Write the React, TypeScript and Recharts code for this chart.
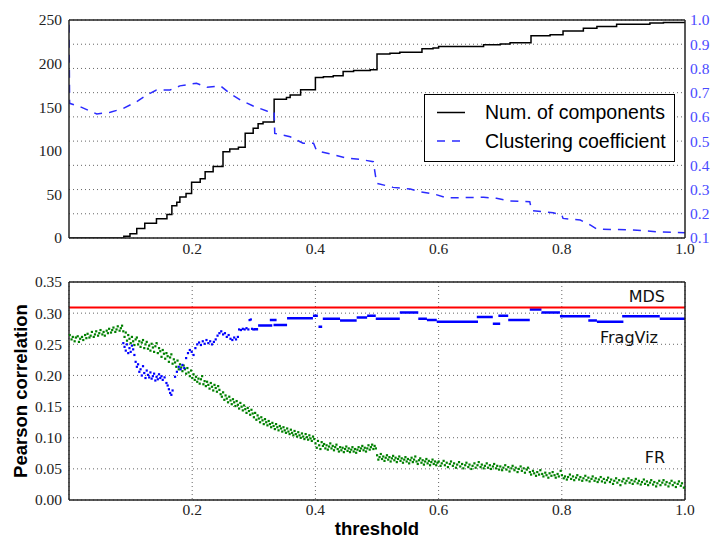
import React from 'react';
import {
  ComposedChart,
  CartesianGrid,
  Line,
  Scatter,
  ReferenceLine,
  XAxis,
  YAxis,
} from 'recharts';

const X_TICKS = [0.2, 0.4, 0.6, 0.8, 1.0];
const COMP_TICKS = [0, 50, 100, 150, 200, 250];
const CC_TICKS = [0.1, 0.2, 0.3, 0.4, 0.5, 0.6, 0.7, 0.8, 0.9, 1.0];
const CORR_TICKS = [0, 0.05, 0.1, 0.15, 0.2, 0.25, 0.3, 0.35];

// [threshold, number of components] (step changes)
const COMPONENTS: [number, number][] = [
  [0, 0], [0.089, 2], [0.099, 5], [0.11, 11], [0.123, 17], [0.142, 22], [0.159, 27],
  [0.167, 37], [0.175, 41], [0.18, 47], [0.19, 51], [0.199, 64], [0.213, 68], [0.221, 76],
  [0.234, 82], [0.25, 99], [0.261, 102], [0.275, 104], [0.286, 120], [0.299, 126],
  [0.307, 131], [0.315, 133], [0.333, 159], [0.353, 161], [0.359, 164], [0.376, 170],
  [0.4, 184], [0.413, 185], [0.429, 186], [0.445, 191], [0.462, 192], [0.489, 193],
  [0.5, 211], [0.521, 212], [0.537, 213], [0.573, 217], [0.591, 218], [0.6, 219.5],
  [0.673, 221.5], [0.7, 222.5], [0.716, 224], [0.75, 232], [0.781, 233], [0.802, 237.5],
  [0.835, 240.5], [0.857, 242.5], [0.889, 245], [0.943, 246.5], [0.965, 247], [1.0, 247],
];

// [threshold, clustering coefficient]
const CLUSTERING: [number, number][] = [
  [0, 0.98], [0.001, 0.656], [0.018, 0.642], [0.045, 0.612], [0.067, 0.619], [0.088, 0.635],
  [0.11, 0.663], [0.126, 0.69], [0.142, 0.711], [0.164, 0.711], [0.18, 0.728], [0.207, 0.739],
  [0.224, 0.722], [0.246, 0.728], [0.261, 0.697], [0.278, 0.67], [0.299, 0.645], [0.321, 0.624],
  [0.333, 0.621], [0.334, 0.532], [0.359, 0.518], [0.38, 0.491], [0.397, 0.491], [0.402, 0.46],
  [0.424, 0.447], [0.451, 0.43], [0.472, 0.425], [0.494, 0.415], [0.4995, 0.326], [0.526, 0.309],
  [0.554, 0.302], [0.57, 0.291], [0.592, 0.282], [0.613, 0.266], [0.673, 0.268], [0.694, 0.264],
  [0.716, 0.253], [0.748, 0.25], [0.751, 0.213], [0.786, 0.204], [0.8, 0.195], [0.802, 0.181],
  [0.83, 0.174], [0.846, 0.154], [0.857, 0.137], [0.916, 0.133], [0.954, 0.126], [1.0, 0.122],
];

const MDS_CORR = 0.309;

// [threshold, Pearson correlation] for the FR layout
const FR: [number, number][] = [
  [0.001, 0.265], [0.004, 0.258], [0.006, 0.262], [0.009, 0.255], [0.011, 0.261], [0.014, 0.263],
  [0.016, 0.254], [0.018, 0.259], [0.021, 0.262], [0.023, 0.257], [0.026, 0.265], [0.028, 0.26],
  [0.03, 0.267], [0.033, 0.261], [0.035, 0.264], [0.037, 0.27], [0.04, 0.262], [0.042, 0.266],
  [0.044, 0.271], [0.047, 0.264], [0.049, 0.268], [0.051, 0.273], [0.054, 0.266], [0.056, 0.27],
  [0.058, 0.264], [0.061, 0.272], [0.063, 0.268], [0.065, 0.275], [0.068, 0.269], [0.07, 0.273],
  [0.072, 0.277], [0.075, 0.27], [0.077, 0.274], [0.079, 0.279], [0.082, 0.272], [0.084, 0.276],
  [0.086, 0.28], [0.088, 0.271],
  [0.09, 0.262], [0.092, 0.269], [0.094, 0.256], [0.096, 0.265], [0.098, 0.259], [0.1, 0.252],
  [0.102, 0.262], [0.104, 0.255], [0.106, 0.249], [0.108, 0.258], [0.11, 0.261], [0.112, 0.25],
  [0.114, 0.255], [0.116, 0.246], [0.118, 0.253], [0.12, 0.257], [0.122, 0.244], [0.124, 0.25],
  [0.126, 0.254], [0.128, 0.243], [0.13, 0.248], [0.132, 0.24], [0.134, 0.251], [0.136, 0.245],
  [0.138, 0.238], [0.14, 0.247], [0.142, 0.252], [0.144, 0.236], [0.146, 0.244], [0.148, 0.239],
  [0.15, 0.23], [0.152, 0.241], [0.154, 0.235], [0.156, 0.227], [0.158, 0.236], [0.16, 0.231],
  [0.162, 0.222], [0.164, 0.229], [0.166, 0.234], [0.168, 0.219], [0.17, 0.226], [0.172, 0.221],
  [0.174, 0.214], [0.176, 0.224], [0.178, 0.21], [0.18, 0.218], [0.182, 0.213], [0.184, 0.207],
  [0.186, 0.216], [0.188, 0.21], [0.19, 0.203], [0.192, 0.212], [0.194, 0.205], [0.196, 0.199],
  [0.198, 0.208], [0.2, 0.196],
  [0.202, 0.202], [0.204, 0.193], [0.206, 0.198], [0.208, 0.19], [0.21, 0.195], [0.212, 0.187],
  [0.214, 0.194], [0.216, 0.199], [0.218, 0.186], [0.22, 0.191], [0.222, 0.183], [0.224, 0.19],
  [0.226, 0.185], [0.228, 0.179], [0.23, 0.188], [0.232, 0.182], [0.234, 0.176], [0.236, 0.185],
  [0.238, 0.18], [0.24, 0.174], [0.242, 0.183], [0.244, 0.177], [0.246, 0.17], [0.248, 0.166],
  [0.25, 0.173], [0.252, 0.161], [0.254, 0.168], [0.256, 0.163], [0.258, 0.157], [0.26, 0.166],
  [0.262, 0.16], [0.264, 0.154], [0.266, 0.162], [0.268, 0.157], [0.27, 0.151], [0.272, 0.159],
  [0.274, 0.153], [0.276, 0.147], [0.278, 0.156], [0.28, 0.15], [0.282, 0.144], [0.284, 0.152],
  [0.286, 0.146], [0.288, 0.14], [0.29, 0.148], [0.292, 0.143], [0.294, 0.137], [0.296, 0.145],
  [0.298, 0.139],
  [0.3, 0.133], [0.302, 0.14], [0.304, 0.129], [0.306, 0.136], [0.308, 0.131], [0.31, 0.125],
  [0.312, 0.133], [0.314, 0.128], [0.316, 0.122], [0.318, 0.13], [0.32, 0.125], [0.322, 0.12],
  [0.324, 0.127], [0.326, 0.122], [0.328, 0.117], [0.33, 0.124], [0.332, 0.119], [0.334, 0.114],
  [0.336, 0.122], [0.338, 0.117], [0.34, 0.112], [0.342, 0.119], [0.344, 0.115], [0.346, 0.11],
  [0.348, 0.117], [0.35, 0.112], [0.352, 0.108], [0.354, 0.115], [0.356, 0.11], [0.358, 0.106],
  [0.36, 0.113], [0.362, 0.108], [0.364, 0.104], [0.366, 0.111], [0.368, 0.106], [0.37, 0.102],
  [0.372, 0.109], [0.374, 0.104], [0.376, 0.1], [0.378, 0.107], [0.38, 0.102], [0.382, 0.098],
  [0.384, 0.106], [0.386, 0.101], [0.388, 0.097], [0.39, 0.104], [0.392, 0.099], [0.394, 0.095],
  [0.396, 0.102], [0.398, 0.098],
  [0.4, 0.091], [0.402, 0.084], [0.404, 0.095], [0.406, 0.088], [0.408, 0.082], [0.41, 0.093],
  [0.412, 0.087], [0.414, 0.09], [0.416, 0.083], [0.418, 0.088], [0.42, 0.081], [0.422, 0.086],
  [0.424, 0.091], [0.426, 0.083], [0.428, 0.087], [0.43, 0.08], [0.432, 0.085], [0.434, 0.089],
  [0.436, 0.082], [0.438, 0.078], [0.44, 0.085], [0.442, 0.08], [0.444, 0.084], [0.446, 0.077],
  [0.448, 0.082], [0.45, 0.086], [0.452, 0.079], [0.454, 0.083], [0.456, 0.077], [0.458, 0.081],
  [0.46, 0.085], [0.462, 0.078], [0.464, 0.082], [0.466, 0.076], [0.468, 0.081], [0.47, 0.085],
  [0.472, 0.079], [0.474, 0.083], [0.476, 0.087], [0.478, 0.08], [0.48, 0.084], [0.482, 0.078],
  [0.484, 0.083], [0.486, 0.088], [0.488, 0.081], [0.49, 0.085], [0.492, 0.089], [0.494, 0.082],
  [0.496, 0.087], [0.498, 0.083],
  [0.5, 0.072], [0.502, 0.065], [0.504, 0.069], [0.506, 0.074], [0.508, 0.066], [0.51, 0.07],
  [0.512, 0.063], [0.514, 0.068], [0.516, 0.072], [0.518, 0.065], [0.52, 0.069], [0.522, 0.062],
  [0.524, 0.067], [0.526, 0.071], [0.528, 0.064], [0.53, 0.068], [0.532, 0.061], [0.534, 0.066],
  [0.536, 0.07], [0.538, 0.063], [0.54, 0.067], [0.542, 0.06], [0.544, 0.065], [0.546, 0.069],
  [0.548, 0.062], [0.55, 0.066], [0.552, 0.059], [0.554, 0.064], [0.556, 0.068], [0.558, 0.061],
  [0.56, 0.065], [0.562, 0.07], [0.564, 0.062], [0.566, 0.058], [0.568, 0.064], [0.57, 0.067],
  [0.572, 0.06], [0.574, 0.064], [0.576, 0.057], [0.578, 0.062], [0.58, 0.066], [0.582, 0.059],
  [0.584, 0.063], [0.586, 0.056], [0.588, 0.061], [0.59, 0.065], [0.592, 0.058], [0.594, 0.062],
  [0.596, 0.056], [0.598, 0.06],
  [0.6, 0.062], [0.603, 0.055], [0.605, 0.059], [0.608, 0.063], [0.61, 0.056], [0.613, 0.06],
  [0.615, 0.053], [0.618, 0.058], [0.62, 0.062], [0.623, 0.055], [0.625, 0.059], [0.628, 0.052],
  [0.63, 0.057], [0.633, 0.061], [0.635, 0.054], [0.638, 0.058], [0.64, 0.051], [0.643, 0.056],
  [0.645, 0.06], [0.648, 0.053], [0.65, 0.057], [0.653, 0.05], [0.655, 0.055], [0.658, 0.059],
  [0.66, 0.052], [0.663, 0.056], [0.665, 0.061], [0.668, 0.053], [0.67, 0.057], [0.673, 0.051],
  [0.675, 0.055], [0.678, 0.059], [0.68, 0.052], [0.683, 0.056], [0.685, 0.05], [0.688, 0.054],
  [0.69, 0.058], [0.693, 0.051], [0.695, 0.055], [0.698, 0.049],
  [0.7, 0.054], [0.703, 0.048], [0.705, 0.052], [0.708, 0.056], [0.71, 0.049], [0.713, 0.053],
  [0.715, 0.046], [0.718, 0.051], [0.72, 0.055], [0.723, 0.048], [0.725, 0.052], [0.728, 0.045],
  [0.73, 0.05], [0.733, 0.054], [0.735, 0.047], [0.738, 0.051], [0.74, 0.044], [0.743, 0.049],
  [0.745, 0.052], [0.748, 0.045], [0.75, 0.041], [0.753, 0.047], [0.755, 0.043], [0.758, 0.039],
  [0.76, 0.045], [0.763, 0.041], [0.765, 0.048], [0.768, 0.042], [0.77, 0.038], [0.773, 0.044],
  [0.775, 0.04], [0.778, 0.036], [0.78, 0.043], [0.783, 0.039], [0.785, 0.045], [0.788, 0.04],
  [0.79, 0.036], [0.793, 0.042], [0.795, 0.038], [0.798, 0.047],
  [0.8, 0.04], [0.803, 0.035], [0.805, 0.038], [0.808, 0.033], [0.81, 0.037], [0.813, 0.041],
  [0.815, 0.034], [0.818, 0.038], [0.82, 0.032], [0.823, 0.036], [0.825, 0.04], [0.828, 0.033],
  [0.83, 0.037], [0.833, 0.031], [0.835, 0.035], [0.838, 0.039], [0.84, 0.032], [0.843, 0.036],
  [0.845, 0.03], [0.848, 0.034], [0.85, 0.038], [0.853, 0.031], [0.855, 0.035], [0.858, 0.029],
  [0.86, 0.033], [0.863, 0.037], [0.865, 0.03], [0.868, 0.034], [0.87, 0.028], [0.873, 0.032],
  [0.875, 0.036], [0.878, 0.029], [0.88, 0.033], [0.883, 0.026], [0.885, 0.031], [0.888, 0.035],
  [0.89, 0.028], [0.893, 0.032], [0.895, 0.024], [0.898, 0.03], [0.9, 0.034], [0.903, 0.027],
  [0.905, 0.031], [0.908, 0.035], [0.91, 0.028], [0.913, 0.032], [0.915, 0.026], [0.918, 0.03],
  [0.92, 0.034], [0.923, 0.027], [0.925, 0.031], [0.928, 0.025], [0.93, 0.029], [0.933, 0.033],
  [0.935, 0.026], [0.938, 0.03], [0.94, 0.024], [0.943, 0.028], [0.945, 0.032], [0.948, 0.025],
  [0.95, 0.029], [0.953, 0.022], [0.955, 0.027], [0.958, 0.031], [0.96, 0.024], [0.963, 0.028],
  [0.965, 0.032], [0.968, 0.025], [0.97, 0.029], [0.973, 0.022], [0.975, 0.027], [0.978, 0.031],
  [0.98, 0.024], [0.983, 0.028], [0.985, 0.021], [0.988, 0.026], [0.99, 0.03], [0.993, 0.023],
  [0.995, 0.027], [0.998, 0.02],
];

// [threshold, Pearson correlation] for FragViz, scattered part
const FRAGVIZ: [number, number][] = [
  [0.088, 0.252], [0.09, 0.246], [0.092, 0.24], [0.094, 0.25], [0.096, 0.236], [0.098, 0.244],
  [0.1, 0.238], [0.102, 0.248], [0.104, 0.242], [0.106, 0.233], [0.108, 0.222], [0.11, 0.214],
  [0.112, 0.218], [0.114, 0.206], [0.116, 0.21], [0.118, 0.2], [0.12, 0.215], [0.122, 0.204],
  [0.124, 0.196], [0.126, 0.208], [0.128, 0.201], [0.13, 0.197], [0.132, 0.205], [0.134, 0.195],
  [0.136, 0.199], [0.138, 0.203], [0.14, 0.192], [0.142, 0.198], [0.144, 0.194], [0.146, 0.202],
  [0.148, 0.196], [0.15, 0.199], [0.152, 0.193], [0.155, 0.197], [0.158, 0.188], [0.16, 0.184],
  [0.162, 0.178], [0.164, 0.172], [0.166, 0.169], [0.168, 0.176], [0.172, 0.198], [0.175, 0.206],
  [0.178, 0.214], [0.181, 0.21], [0.184, 0.217], [0.187, 0.212], [0.19, 0.228], [0.193, 0.236],
  [0.196, 0.241], [0.199, 0.238], [0.202, 0.233], [0.205, 0.244], [0.208, 0.25], [0.211, 0.253],
  [0.214, 0.249], [0.217, 0.255], [0.22, 0.251], [0.223, 0.257], [0.226, 0.252], [0.229, 0.255],
  [0.232, 0.25], [0.235, 0.254], [0.238, 0.258], [0.241, 0.264], [0.244, 0.268], [0.247, 0.271],
  [0.25, 0.266], [0.253, 0.268], [0.256, 0.262], [0.259, 0.265], [0.262, 0.259], [0.265, 0.257],
  [0.268, 0.261], [0.271, 0.258], [0.274, 0.262], [0.276, 0.274], [0.279, 0.273], [0.282, 0.275],
  [0.285, 0.274], [0.288, 0.276], [0.291, 0.274], [0.293, 0.289], [0.295, 0.29], [0.297, 0.275],
  [0.299, 0.274],
];

// [from, to, correlation] flat runs of FragViz at higher thresholds
const FRAGVIZ_RUNS: [number, number, number][] = [
  [0.3, 0.307, 0.274], [0.307, 0.33, 0.28], [0.326, 0.337, 0.289], [0.332, 0.354, 0.281],
  [0.354, 0.396, 0.292], [0.396, 0.404, 0.296], [0.405, 0.411, 0.278], [0.412, 0.44, 0.291],
  [0.44, 0.467, 0.288], [0.467, 0.484, 0.293], [0.484, 0.498, 0.296], [0.498, 0.537, 0.291],
  [0.537, 0.567, 0.301], [0.567, 0.581, 0.291], [0.581, 0.597, 0.289], [0.597, 0.664, 0.286],
  [0.662, 0.688, 0.294], [0.688, 0.7, 0.283], [0.697, 0.713, 0.296], [0.713, 0.748, 0.289],
  [0.748, 0.767, 0.306], [0.767, 0.797, 0.301], [0.797, 0.846, 0.295], [0.843, 0.857, 0.288],
  [0.857, 0.9, 0.286], [0.898, 0.959, 0.295], [0.959, 1.0, 0.291],
];

const compData = COMPONENTS.map(([t, n]) => ({ t, n }));
const ccData = CLUSTERING.map(([t, c]) => ({ t, c }));
const frData = FR.map(([t, v]) => ({ t, v }));
const fvData = FRAGVIZ.map(([t, v]) => ({ t, v }));
const fvRunData = FRAGVIZ_RUNS.flatMap(([a, b, v]) => [
  { t: a, v },
  { t: b, v },
  { t: b, v: null },
]);

const frame = { stroke: '#222', strokeWidth: 1.5 };
const inTick = { stroke: '#222', strokeWidth: 1 };
const gridColor = '#666';

// serif tick labels, like the matplotlib original
const serifTick = (digits: number, color = '#222') => (p: any) => (
  <text
    x={p.x}
    y={p.y}
    textAnchor={p.textAnchor}
    dy={p.verticalAnchor === 'start' ? '0.71em' : '0.35em'}
    fill={color}
    fontSize={15.5}
    fontFamily='"Liberation Serif", "Times New Roman", serif'
  >
    {Number(p.payload.value).toFixed(digits)}
  </text>
);

const square = (color: string) => (p: any) => (
  <rect x={p.cx - 1} y={p.cy - 1} width={2.2} height={2.2} fill={color} />
);

const App = () => {
  return (
    <div style={{ position: 'absolute', left: 0, top: 0, width: 711, height: 539, background: '#fff' }}>
      <div style={{ position: 'absolute', left: 0, top: 0 }}>
        <ComposedChart width={711} height={270} margin={{ top: 20, right: 0, bottom: 10, left: 9 }}>
          <CartesianGrid xAxisId="x" yAxisId="r" vertical={false} stroke={gridColor} strokeDasharray="1 3" />
          <XAxis xAxisId="x" dataKey="t" type="number" domain={[0, 1]} allowDataOverflow ticks={X_TICKS}
            interval={0} height={22} tickSize={0} tickMargin={5}
            tickLine={false} tick={serifTick(1)} axisLine={frame} />
          <XAxis xAxisId="xin" type="number" domain={[0, 1]} allowDataOverflow ticks={X_TICKS} interval={0}
            mirror tick={false} tickSize={5} tickLine={inTick} axisLine={false} />
          <XAxis xAxisId="xtop" orientation="top" type="number" domain={[0, 1]} allowDataOverflow ticks={X_TICKS}
            interval={0} mirror tick={false} tickSize={5} tickLine={inTick} axisLine={frame} />
          <YAxis yAxisId="l" type="number" domain={[0, 250]} allowDataOverflow ticks={COMP_TICKS} interval={0}
            width={60} tickSize={0} tickMargin={7} tickLine={false} tick={serifTick(0)} axisLine={frame} />
          <YAxis yAxisId="lin" type="number" domain={[0, 250]} allowDataOverflow ticks={COMP_TICKS} interval={0}
            mirror tick={false} tickSize={5} tickLine={inTick} axisLine={false} />
          <YAxis yAxisId="r" orientation="right" type="number" domain={[0.1, 1.0]} allowDataOverflow ticks={CC_TICKS}
            interval={0} width={26} tickSize={0} tickMargin={5}
            tickLine={false} tick={serifTick(1, '#4a4aff')} axisLine={frame} />
          <YAxis yAxisId="rin" orientation="right" type="number" domain={[0.1, 1.0]} allowDataOverflow ticks={CC_TICKS}
            interval={0} mirror tick={false} tickSize={5} tickLine={inTick} axisLine={false} />
          <Line data={compData} xAxisId="x" yAxisId="l" dataKey="n" type="stepAfter" stroke="#000"
            strokeWidth={1.5} dot={false} isAnimationActive={false} />
          <Line data={ccData} xAxisId="x" yAxisId="r" dataKey="c" type="linear" stroke="#2b2bff"
            strokeWidth={1.5} strokeDasharray="8 7" dot={false} isAnimationActive={false} />
        </ComposedChart>
      </div>
      <div style={{ position: 'absolute', left: 0, top: 270 }}>
        <ComposedChart width={711} height={269} margin={{ top: 12, right: 26, bottom: 0, left: 9 }}>
          <CartesianGrid xAxisId="x" yAxisId="y" stroke={gridColor} strokeDasharray="1 3" />
          <XAxis xAxisId="x" dataKey="t" type="number" domain={[0, 1]} allowDataOverflow ticks={X_TICKS}
            interval={0} height={39} tickSize={0} tickMargin={4}
            tickLine={false} tick={serifTick(1)} axisLine={frame}
            label={{ value: 'threshold', position: 'insideBottom', offset: 4, fill: '#000',
              style: { fontSize: 18.5, fontWeight: 'bold', fontFamily: '"Liberation Sans", Arial, sans-serif' } }} />
          <XAxis xAxisId="xin" type="number" domain={[0, 1]} allowDataOverflow ticks={X_TICKS} interval={0}
            mirror tick={false} tickSize={5} tickLine={inTick} axisLine={false} />
          <XAxis xAxisId="xtop" orientation="top" type="number" domain={[0, 1]} allowDataOverflow ticks={X_TICKS}
            interval={0} mirror tick={false} tickSize={5} tickLine={inTick} axisLine={frame} />
          <YAxis yAxisId="y" dataKey="v" type="number" domain={[0, 0.35]} allowDataOverflow ticks={CORR_TICKS}
            interval={0} width={60} tickSize={0} tickMargin={7}
            tickLine={false} tick={serifTick(2)} axisLine={frame}
            label={{ value: 'Pearson correlation', angle: -90, position: 'insideLeft', offset: 11, fill: '#000',
              style: { textAnchor: 'middle', fontSize: 18.5, fontWeight: 'bold',
                fontFamily: '"Liberation Sans", Arial, sans-serif' } }} />
          <YAxis yAxisId="yin" type="number" domain={[0, 0.35]} allowDataOverflow ticks={CORR_TICKS} interval={0}
            mirror tick={false} tickSize={5} tickLine={inTick} axisLine={false} />
          <YAxis yAxisId="yr" orientation="right" type="number" domain={[0, 0.35]} allowDataOverflow
            ticks={CORR_TICKS} interval={0} mirror tick={false} tickSize={5} tickLine={inTick} axisLine={frame} />
          <Scatter data={frData} xAxisId="x" yAxisId="y" dataKey="v" fill="#008000"
            shape={square('#008000')} isAnimationActive={false} />
          <Scatter data={fvData} xAxisId="x" yAxisId="y" dataKey="v" fill="#0000ff"
            shape={square('#0000ff')} isAnimationActive={false} />
          <Line data={fvRunData} xAxisId="x" yAxisId="y" dataKey="v" type="linear" stroke="#0000ff"
            strokeWidth={2.5} dot={false} connectNulls={false} isAnimationActive={false} />
          <ReferenceLine xAxisId="x" yAxisId="y" y={MDS_CORR} stroke="#ff0000" strokeWidth={2} />
        </ComposedChart>
      </div>
      <svg width={711} height={539} style={{ position: 'absolute', left: 0, top: 0, pointerEvents: 'none' }}>
        <g fontFamily='"Liberation Sans", Arial, sans-serif' fontSize={19.5} fill="#000">
          <rect x={424.5} y={94.5} width={250} height={67} fill="#fff" stroke="#000" strokeWidth={1} />
          <line x1={437} y1={112.5} x2={465} y2={112.5} stroke="#000" strokeWidth={1.5} />
          <text x={485} y={119}>Num. of components</text>
          <line x1={437} y1={141} x2={465} y2={141} stroke="#2b2bff" strokeWidth={1.5} strokeDasharray="8 7" />
          <text x={485} y={147.5}>Clustering coefficient</text>
        </g>
        <g fontFamily='"DejaVu Sans", sans-serif' fontSize={16} fill="#111" textAnchor="end">
          <text x={665} y={302.3}>MDS</text>
          <text x={658} y={342.7}>FragViz</text>
          <text x={665} y={463.3}>FR</text>
        </g>
      </svg>
    </div>
  );
};

export default App;
